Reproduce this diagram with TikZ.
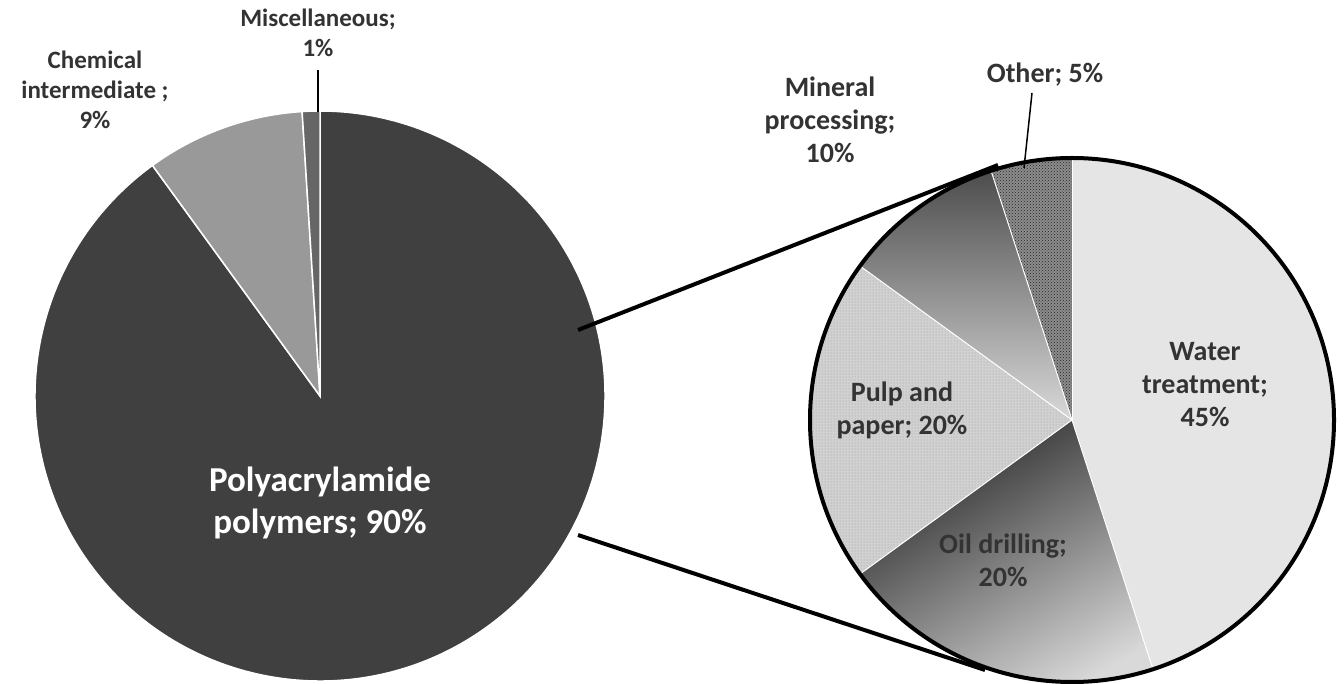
\documentclass[tikz,border=0pt]{standalone}
\usepackage{fontspec}
\setmainfont{Carlito}
\usetikzlibrary{patterns}
\begin{document}
\begin{tikzpicture}[x=1pt,y=1pt,
  lbl/.style={font=\bfseries\fontsize{25}{30}\selectfont,align=center,text=black!80},
  rlbl/.style={lbl,font=\bfseries\fontsize{28}{33}\selectfont},
  sep/.style={draw=white,line width=1.5pt}]
\useasboundingbox (0,0) rectangle (1344,683);
\coordinate (L) at (320,287);
\coordinate (R) at (1072,263);
% left pie
\fill[black!75,sep] (L) -- ++(126:285) arc[start angle=126,end angle=450,radius=285] -- cycle;
\fill[black!40,sep] (L) -- ++(93.6:285) arc[start angle=93.6,end angle=126,radius=285] -- cycle;
\fill[black!60,sep] (L) -- ++(90:285) arc[start angle=90,end angle=93.6,radius=285] -- cycle;
% right pie
\fill[black!10] (R) -- ++(90:262) arc[start angle=90,end angle=-72,radius=262] -- cycle;
\shade[left color=black!85,right color=black!15,shading angle=30] (R) -- ++(-72:262) arc[start angle=-72,end angle=-144,radius=262] -- cycle;
\fill[black!18] (R) -- ++(-144:262) arc[start angle=-144,end angle=-216,radius=262] -- cycle;
\fill[pattern=dots,pattern color=black!40] (R) -- ++(-144:262) arc[start angle=-144,end angle=-216,radius=262] -- cycle;
\shade[top color=black!70,bottom color=black!15] (R) -- ++(144:262) arc[start angle=144,end angle=108,radius=262] -- cycle;
\fill[black!45] (R) -- ++(108:262) arc[start angle=108,end angle=90,radius=262] -- cycle;
\fill[pattern=crosshatch dots,pattern color=black!85] (R) -- ++(108:262) arc[start angle=108,end angle=90,radius=262] -- cycle;
\foreach \a in {90,-72,-144,144,108} \draw[white,line width=1pt] (R) -- ++(\a:262);
\draw[black,line width=4pt] (R) circle[radius=262];
% connectors
\coordinate (c1) at (578,353);
\coordinate (c2) at (998,518);
\coordinate (c3) at (578,148);
\coordinate (c4) at (985,13);
\draw[line width=4pt] (c1) -- (c2);
\draw[line width=4pt] (c3) -- (c4);
% leaders
\coordinate (m1) at (318,613); \coordinate (m2) at (318,571);
\draw[line width=2pt] (m1) -- (m2);
\coordinate (o1) at (1032,590); \coordinate (o2) at (1024,515);
\draw[line width=1.5pt] (o1) -- (o2);
% labels
\node[lbl] (lm) at (318,650) {Miscellaneous;\\1\%};
\node[lbl] (lc) at (95,593) {Chemical\\intermediate ;\\9\%};
\node[lbl,text=white,font=\bfseries\fontsize{35}{42}\selectfont] (lp) at (320,180) {Polyacrylamide\\polymers; 90\%};
\node[rlbl] (lmin) at (830,563) {Mineral\\processing;\\10\%};
\node[rlbl] (lo) at (1045,608) {Other; 5\%};
\node[rlbl] (lw) at (1205,298) {Water\\treatment;\\45\%};
\node[rlbl] (lpp) at (902,273) {Pulp and\\paper; 20\%};
\node[rlbl] (lod) at (1003,123) {Oil drilling;\\20\%};
\end{tikzpicture}
\end{document}
